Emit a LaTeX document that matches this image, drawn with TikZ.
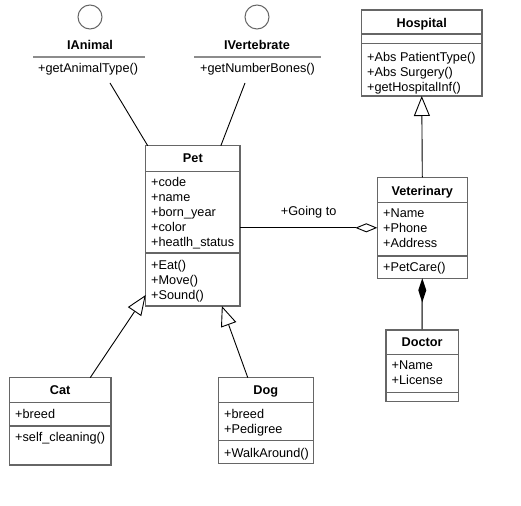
\documentclass[tikz,border=0pt]{standalone}
\usepackage{fontspec}
\setmainfont{Liberation Sans}
\usetikzlibrary{positioning, arrows.meta}

\begin{document}
\begin{tikzpicture}[x=1pt, y=-1pt,
    % Styles
    classbox/.style={draw=black!60, line width=1.3pt, fill=white, inner sep=0pt, outer sep=0pt},
    classname/.style={font=\fontsize{12.7}{15}\selectfont\bfseries, inner sep=0pt, anchor=base},
    members/.style={font=\fontsize{12.7}{15}\selectfont, align=left, anchor=north west, inner sep=0pt},
    divider/.style={draw=black!60, line width=1.3pt},
    lollipop/.style={circle, draw=black!60, line width=1pt, minimum size=24pt, inner sep=0pt},
    iline/.style={draw=black!45, line width=1.6pt},
    assoc/.style={draw=black, line width=0.9pt},
    inherit/.style={assoc, -{Triangle[open, fill=white, length=20pt, width=16pt]}},
    aggregate/.style={assoc, -{Diamond[open, fill=white, length=22pt, width=9pt]}},
    compose/.style={assoc, draw=black!65, line width=1.5pt, -{Diamond[length=24pt, width=8pt, color=black]}},
    rolelabel/.style={font=\fontsize{12.7}{15}\selectfont, inner sep=0pt},
]

% Canvas
\fill[white] (0,0) rectangle (521,505);
\useasboundingbox (0,0) rectangle (521,505);

% Interfaces
\node[lollipop] (ianimal) at (90,17) {};
\node[classname] (ianimal-name) at (90,49.6) {IAnimal};
\draw[iline] (33,57) -- (145,57);
\node[members] (ianimal-ops) at (38,63.4) {+getAnimalType()};
\coordinate (ianimal-end) at (110,83);

\node[lollipop] (ivert) at (257,17) {};
\node[classname] (ivert-name) at (257,49.6) {IVertebrate};
\draw[iline] (194,57) -- (321,57);
\node[members] (ivert-ops) at (200,63.4) {+getNumberBones()};
\coordinate (ivert-end) at (245,83);

% Hospital
\node[classbox, minimum width=120.5pt, minimum height=86pt] (hosp) at (421.75,53) {};
\node[classname] (hosp-name) at (421.75,27.1) {Hospital};
\draw[divider] (hosp.west |- 0,34) -- (hosp.east |- 0,34);
\draw[divider] (hosp.west |- 0,43.5) -- (hosp.east |- 0,43.5);
\node[members] (hosp-ops) at (367,51.6) {+Abs PatientType()\\+Abs Surgery()\\+getHospitalInf()};

% Pet
\node[classbox, minimum width=94.3pt, minimum height=160.3pt] (pet) at (192.85,225.85) {};
\node[classname] (pet-name) at (192.85,162.6) {Pet};
\draw[divider] (pet.west |- 0,171.7) -- (pet.east |- 0,171.7);
\node[members] (pet-attr) at (151,177.1) {+code\\+name\\+born\_year\\+color\\+heatlh\_status};
\draw[divider] (pet.west |- 0,253) -- (pet.east |- 0,253);
\node[members] (pet-ops) at (151,260.4) {+Eat()\\+Move()\\+Sound()};

% Veterinary
\node[classbox, minimum width=90pt, minimum height=101pt] (vet) at (422.3,227.8) {};
\node[classname] (vet-name) at (422.3,195.3) {Veterinary};
\draw[divider] (vet.west |- 0,202.7) -- (vet.east |- 0,202.7);
\node[members] (vet-attr) at (383,208.7) {+Name\\+Phone\\+Address};
\draw[divider] (vet.west |- 0,256) -- (vet.east |- 0,256);
\node[members] (vet-ops) at (383,262.1) {+PetCare()};

% Doctor
\node[classbox, minimum width=72.3pt, minimum height=71.7pt] (doc) at (422.15,365.85) {};
\node[classname] (doc-name) at (422.15,346.9) {Doctor};
\draw[divider] (doc.west |- 0,354.3) -- (doc.east |- 0,354.3);
\node[members] (doc-attr) at (391.5,360.4) {+Name\\+License};
\draw[divider] (doc.west |- 0,392.7) -- (doc.east |- 0,392.7);

% Cat
\node[classbox, minimum width=101.7pt, minimum height=87.3pt] (cat) at (60.15,421.35) {};
\node[classname] (cat-name) at (60.15,394.6) {Cat};
\draw[divider] (cat.west |- 0,402.3) -- (cat.east |- 0,402.3);
\node[members] (cat-attr) at (15,408.7) {+breed};
\draw[divider] (cat.west |- 0,426) -- (cat.east |- 0,426);
\node[members] (cat-ops) at (15,432.1) {+self\_cleaning()};

% Dog
\node[classbox, minimum width=95pt, minimum height=85.6pt] (dog) at (265.8,420.5) {};
\node[classname] (dog-name) at (265.8,394.6) {Dog};
\draw[divider] (dog.west |- 0,402.3) -- (dog.east |- 0,402.3);
\node[members] (dog-attr) at (224,408.7) {+breed\\+Pedigree};
\draw[divider] (dog.west |- 0,440.7) -- (dog.east |- 0,440.7);
\node[members] (dog-ops) at (224,447.7) {+WalkAround()};

% Realisations
\draw[assoc] (ianimal-end) -- ([xshift=2pt]pet.north west);
\draw[assoc] (ivert-end) -- ([xshift=28pt]pet.north);

% Generalisations
\draw[inherit] ([xshift=30pt]cat.north) -- ([yshift=11pt]pet.south west);
\draw[inherit] ([xshift=-18pt]dog.north) -- ([xshift=29pt]pet.south);
\draw[inherit] (vet.north) -- (hosp.south);

% Aggregation and composition
\draw[aggregate] (pet.east |- vet.west) -- (vet.west)
    node[rolelabel, midway, yshift=16pt] (going) {+Going to};
\draw[compose] (doc.north) -- (vet.south);

\end{tikzpicture}
\end{document}
